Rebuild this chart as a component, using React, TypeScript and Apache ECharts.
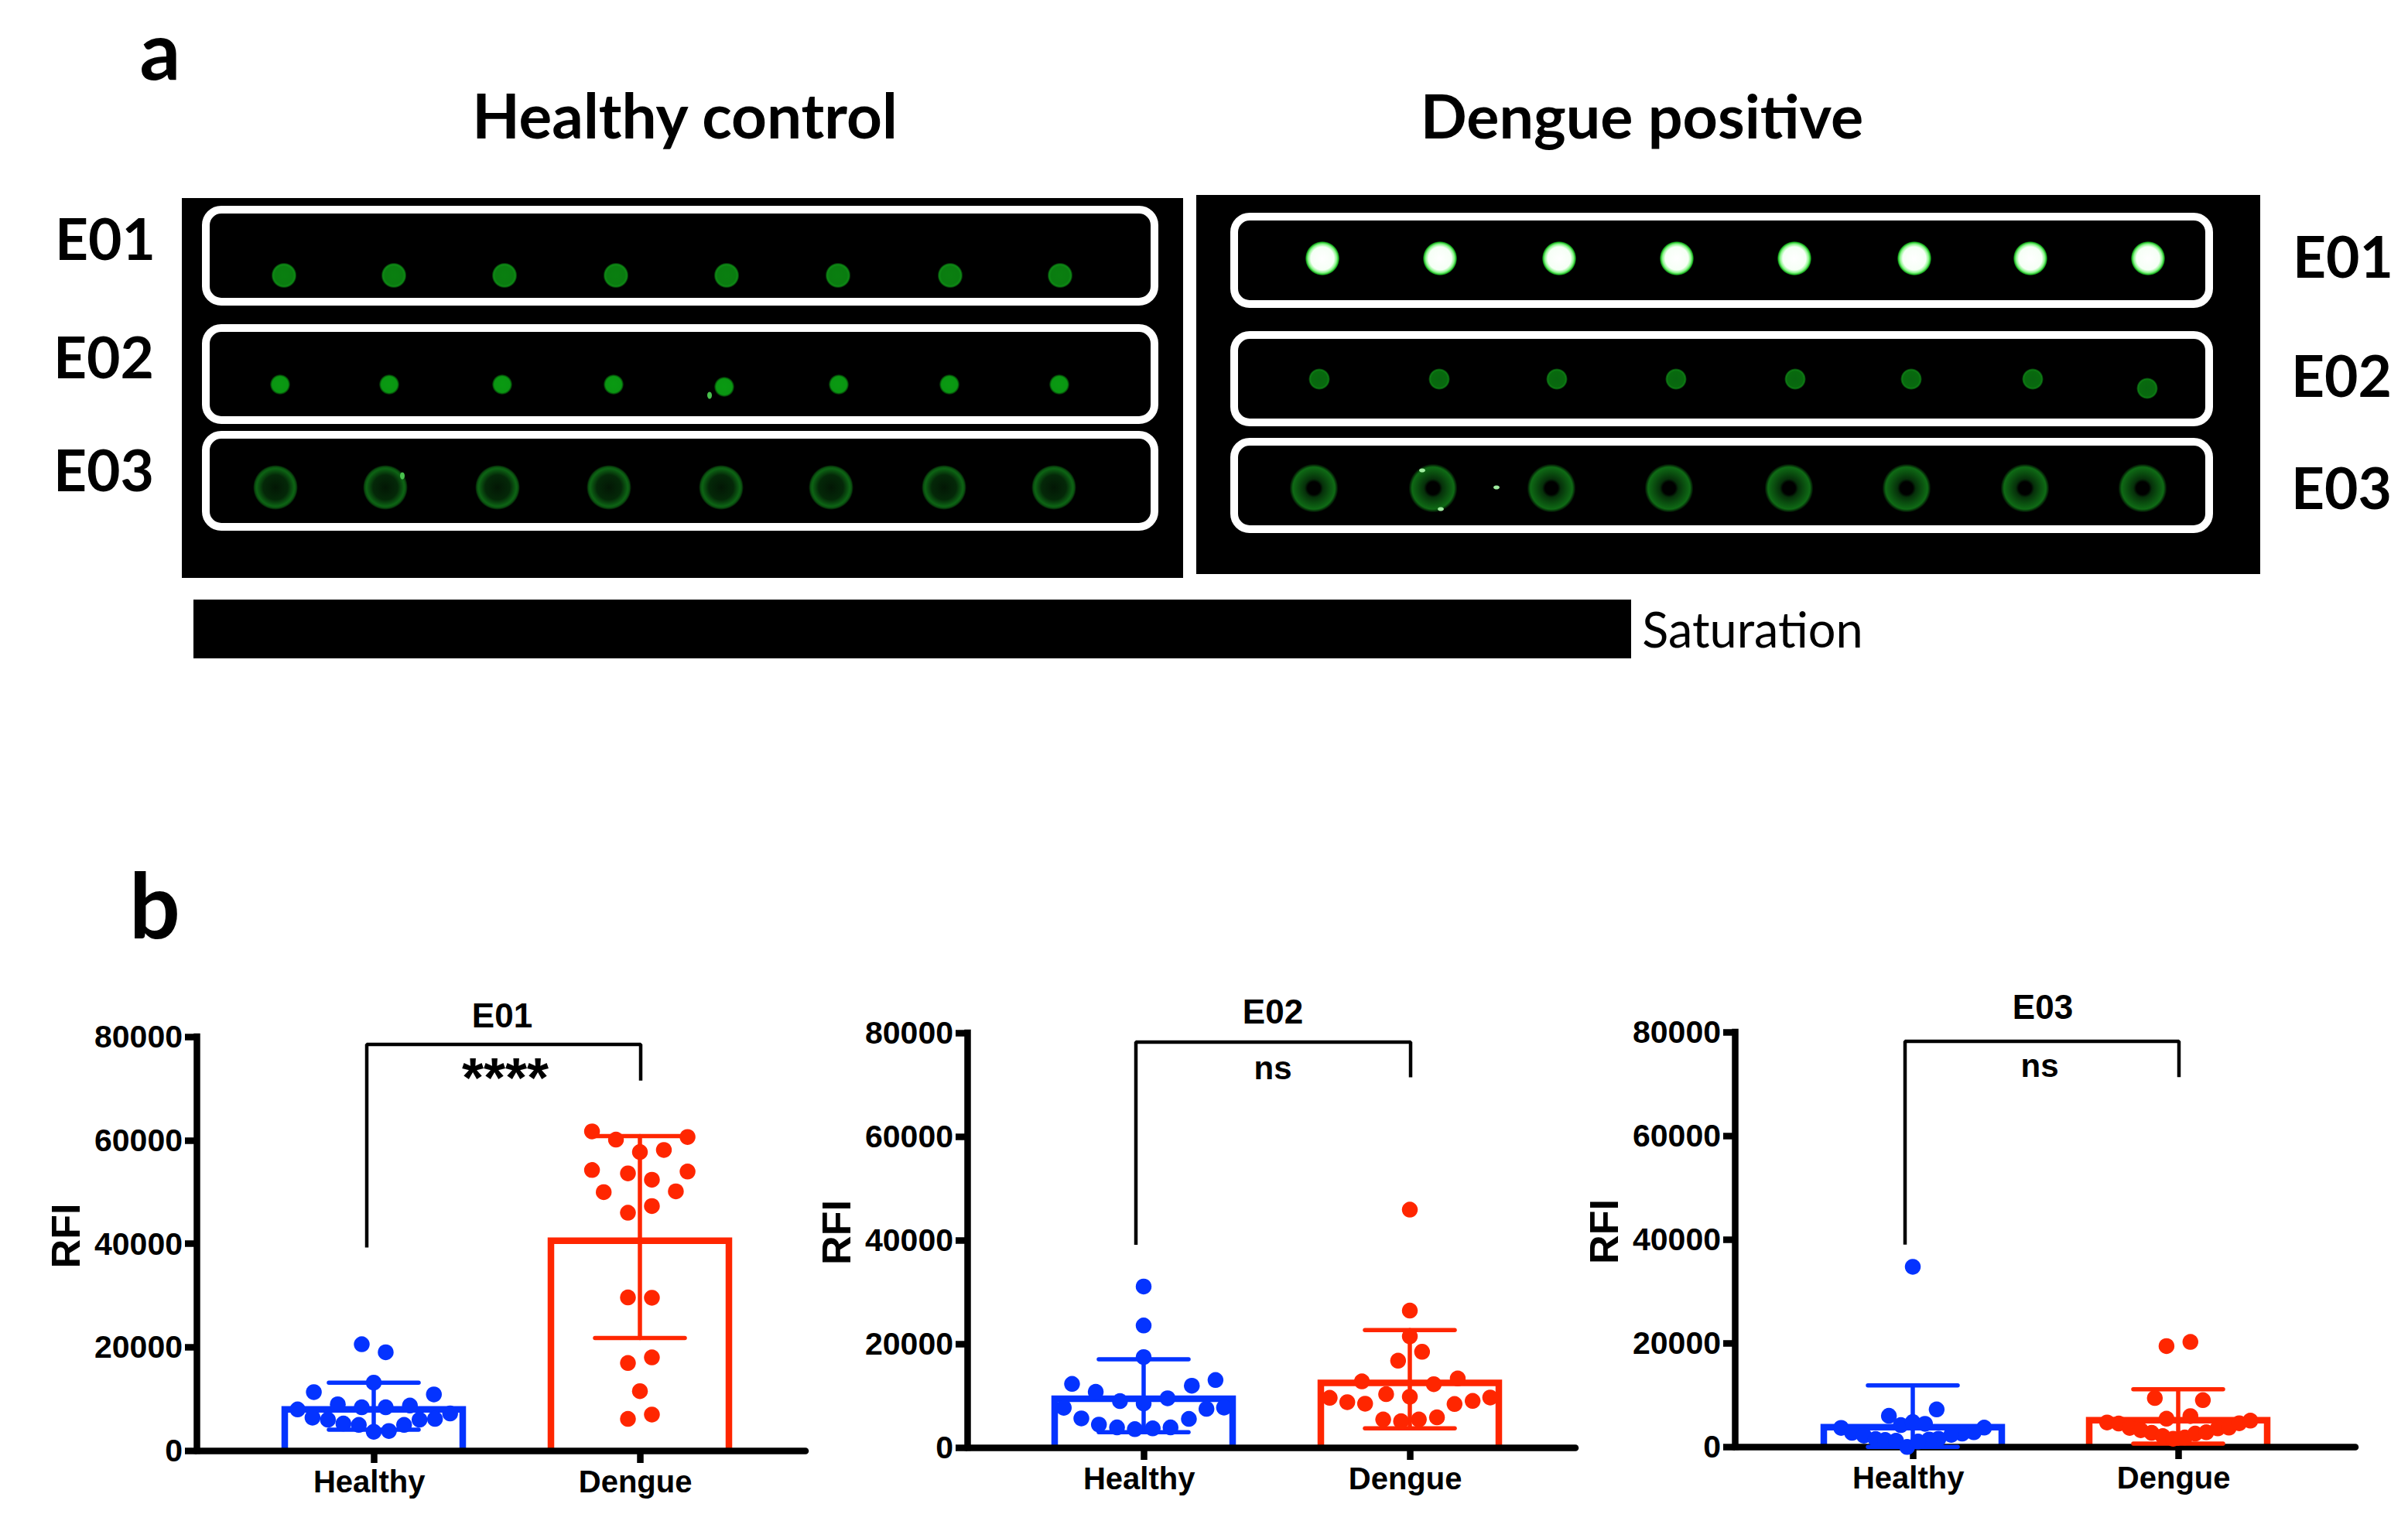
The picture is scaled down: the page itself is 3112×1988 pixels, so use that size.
import React, { useEffect, useRef } from "react";
import * as echarts from "echarts";

// ---------- panel b data ----------
const groupLabels = ["Healthy", "Dengue"];
const yTicks = [0, 20000, 40000, 60000, 80000];

const e01Means = [7960, 40550];
const e01Lows = [4030, 21740];
const e01Highs = [13130, 60800];
const e01HealthyOffsets = [-0.045, 0.045, 0, -0.225, 0.226, -0.135, -0.045, 0.045, 0.136, -0.286, 0.287, -0.23, -0.172, -0.114, -0.056, 0, 0.057, 0.114, 0.172, 0.23];
const e01HealthyValues = [20550, 19000, 13130, 11290, 10850, 8950, 8360, 8360, 8700, 7960, 7160, 6370, 5970, 5220, 4970, 3630, 3780, 4970, 5970, 6120];
const e01DengueOffsets = [-0.18, -0.09, 0.179, 0, 0.09, -0.18, -0.045, 0.045, 0.179, -0.136, 0.135, 0.045, -0.045, -0.045, 0.045, 0.045, -0.045, 0, 0.045, -0.045];
const e01DengueValues = [61690, 60100, 60600, 57710, 58110, 54230, 53580, 52340, 53930, 49950, 50100, 47260, 45970, 29600, 29550, 18010, 16920, 11490, 6970, 6120];

const e02Means = [9390, 12470];
const e02Lows = [2930, 3680];
const e02Highs = [17030, 22650];
const e02HealthyOffsets = [0, 0, 0, -0.269, -0.18, 0.181, 0.27, -0.089, 0, 0.09, -0.3, -0.234, -0.168, -0.1, -0.033, 0.034, 0.101, 0.17, 0.236, 0.302];
const e02HealthyValues = [31060, 23540, 17430, 12270, 10730, 11920, 13010, 8940, 8490, 9490, 7650, 5610, 4420, 3870, 3530, 3680, 3870, 5510, 7450, 7700];
const e02DengueOffsets = [0, 0, 0, 0.046, -0.044, -0.18, 0.09, 0.18, -0.301, -0.235, -0.168, -0.089, 0, 0.168, 0.236, 0.302, -0.1, -0.033, 0.034, 0.102];
const e02DengueValues = [45890, 26400, 21450, 18470, 16740, 12760, 12220, 13310, 9580, 8740, 8440, 10280, 9780, 8390, 8990, 9630, 5410, 5070, 5410, 5810];

const e03Means = [3770, 5120];
const e03Lows = [-50, 600];
const e03Highs = [11820, 11070];
const e03HealthyOffsets = [0, -0.09, 0.09, -0.045, 0, 0.046, -0.27, -0.229, -0.184, -0.14, -0.104, -0.063, -0.021, 0.269, 0.23, 0.186, 0.145, 0.097, 0.062, 0.02];
const e03HealthyValues = [34710, 5960, 7200, 4170, 4770, 4420, 3630, 2680, 2140, 1490, 1290, 1140, -50, 3680, 2780, 2530, 2280, 1540, 1390, 1000];
const e03DengueOffsets = [-0.044, 0.046, -0.088, 0.093, -0.044, 0.046, -0.268, -0.224, -0.183, -0.141, -0.1, -0.058, -0.019, 0.025, 0.064, 0.106, 0.149, 0.191, 0.23, 0.272];
const e03DengueValues = [19420, 20210, 9390, 8990, 5410, 5910, 4670, 4470, 3630, 3180, 2680, 2040, 1540, 1790, 2530, 2780, 3530, 3680, 4520, 5020];

// significance brackets: [left foot, top, right foot]
const e01Bracket = [39250, 78500, 71500];
const e02Bracket = [39100, 78200, 71400];
const e03Bracket = [39000, 78200, 71300];

// ---------- panel a data (slide units) ----------
const healthyE01X = [132, 274, 417, 561, 704, 848, 993, 1135];
const healthyE01Y = [100, 100, 100, 100, 100, 100, 100, 100];
const healthyE02X = [127, 268, 414, 558, 701, 849, 992, 1134];
const healthyE02Y = [241, 241, 241, 241, 244, 241, 241, 241];
const healthyE03X = [121, 263, 408, 552, 697, 839, 985, 1127];
const healthyE03Y = [374, 374, 374, 374, 374, 374, 374, 374];
const healthySpeckX = [682, 285];
const healthySpeckY = [255, 359];
const dengueE01X = [163, 315, 469, 621, 773, 928, 1078, 1230];
const dengueE01Y = [82, 82, 82, 82, 82, 82, 82, 82];
const dengueE02X = [159, 314, 466, 620, 774, 924, 1081, 1229];
const dengueE02Y = [238, 238, 238, 238, 238, 238, 238, 250];
const dengueE03X = [152, 306, 459, 611, 766, 918, 1071, 1223];
const dengueE03Y = [379, 379, 379, 379, 379, 379, 379, 379];
const dengueSpeckX = [388, 292, 316];
const dengueSpeckY = [378, 356, 406];

const BLUE = "#0433ff";
const RED = "#ff2600";
const SANS = "Liberation Sans";
const HEAD = "Lato";

const radial = (stops: [number, string][]) =>
  new echarts.graphic.RadialGradient(0.5, 0.5, 0.5, stops.map(([offset, color]) => ({ offset, color })));

const zip = (xs: number[], ys: number[]) => xs.map((x, i) => [x, ys[i]]);

type Panel = {
  axisX: number; top: number; zero: number; right: number; tick1: number; tick2: number;
  means: number[]; lows: number[]; highs: number[];
  hOff: number[]; hVal: number[]; dOff: number[]; dVal: number[];
  bracket: number[]; brL: number; brR: number;
};

const panels: Panel[] = [
  { axisX: 254, top: 1340, zero: 1875, right: 1041, tick1: 483, tick2: 827, means: e01Means, lows: e01Lows, highs: e01Highs, hOff: e01HealthyOffsets, hVal: e01HealthyValues, dOff: e01DengueOffsets, dVal: e01DengueValues, bracket: e01Bracket, brL: 474, brR: 828 },
  { axisX: 1250, top: 1335, zero: 1871, right: 2036, tick1: 1478, tick2: 1822, means: e02Means, lows: e02Lows, highs: e02Highs, hOff: e02HealthyOffsets, hVal: e02HealthyValues, dOff: e02DengueOffsets, dVal: e02DengueValues, bracket: e02Bracket, brL: 1468, brR: 1823 },
  { axisX: 2242, top: 1334, zero: 1870, right: 3044, tick1: 2472, tick2: 2815, means: e03Means, lows: e03Lows, highs: e03Highs, hOff: e03HealthyOffsets, hVal: e03HealthyValues, dOff: e03DengueOffsets, dVal: e03DengueValues, bracket: e03Bracket, brL: 2462, brR: 2816 },
];

function buildOption() {
  const grids: any[] = [];
  const xAxes: any[] = [];
  const yAxes: any[] = [];
  const series: any[] = [];

  panels.forEach((p, i) => {
    const unit = p.tick2 - p.tick1;
    const xMin = 1 - (p.tick1 - p.axisX) / unit;
    const xMax = 2 + (p.right - p.tick2) / unit;
    grids.push({ left: p.axisX, top: p.top, width: p.right - p.axisX, height: p.zero - p.top, containLabel: false });
    xAxes.push({
      type: "value", gridIndex: i, min: xMin, max: xMax, z: 2, splitLine: { show: false },
      axisLine: { show: true, lineStyle: { color: "#000", width: 8.5 } },
      axisTick: { show: true, length: 16, customValues: [1, 2], lineStyle: { color: "#000", width: 8.5 } },
      axisLabel: {
        show: true, customValues: [0.983, 1.983], margin: 20, hideOverlap: false,
        formatter: (v: number) => groupLabels[v < 1.5 ? 0 : 1],
        fontFamily: SANS, fontWeight: "bold", fontSize: 40, color: "#000",
      },
    });
    yAxes.push({
      type: "value", gridIndex: i, min: yTicks[0], max: yTicks[yTicks.length - 1], interval: yTicks[1] - yTicks[0], z: 2,
      splitLine: { show: false },
      axisLine: { show: true, onZero: false, lineStyle: { color: "#000", width: 8.5, cap: "square" } },
      axisTick: { show: true, length: 15, lineStyle: { color: "#000", width: 8.5 } },
      axisLabel: { show: true, margin: 18, formatter: (v: number) => String(v), fontFamily: SANS, fontWeight: "bold", fontSize: 41, color: "#000" },
      name: "RFI", nameLocation: "middle", nameGap: 143, nameRotate: 90,
      nameTextStyle: { fontFamily: SANS, fontWeight: "bold", fontSize: 52, color: "#000", padding: [0, 0, 0, 20] },
    });
    series.push({
      type: "custom", xAxisIndex: i, yAxisIndex: i, z: 1, clip: false,
      encode: { x: 0, y: 1 },
      data: [
        { value: [1, p.means[0]], itemStyle: { color: BLUE } },
        { value: [2, p.means[1]], itemStyle: { color: RED } },
      ],
      renderItem: (_: any, api: any) => {
        const top = api.coord([api.value(0), api.value(1)]);
        const base = api.coord([api.value(0), 0]);
        const half = 115;
        return {
          type: "polyline",
          shape: { points: [[top[0] - half, base[1]], [top[0] - half, top[1]], [top[0] + half, top[1]], [top[0] + half, base[1]]] },
          style: { stroke: api.visual("color"), lineWidth: 8.5, fill: "none", lineJoin: "miter" },
        };
      },
    });
    series.push({
      type: "custom", xAxisIndex: i, yAxisIndex: i, z: 3, clip: false,
      encode: { x: 0, y: [1, 2] },
      data: [
        { value: [1, p.lows[0], p.highs[0]], itemStyle: { color: BLUE } },
        { value: [2, p.lows[1], p.highs[1]], itemStyle: { color: RED } },
      ],
      renderItem: (_: any, api: any) => {
        const lo = api.coord([api.value(0), api.value(1)]);
        const hi = api.coord([api.value(0), api.value(2)]);
        const style = { stroke: api.visual("color"), lineWidth: 5.5, lineCap: "round", fill: "none" };
        const seg = (x1: number, y1: number, x2: number, y2: number) => ({ type: "line", shape: { x1, y1, x2, y2 }, style });
        return {
          type: "group",
          children: [
            seg(lo[0], lo[1], hi[0], hi[1]),
            seg(lo[0] - 58, lo[1], lo[0] + 58, lo[1]),
            seg(hi[0] - 58, hi[1], hi[0] + 58, hi[1]),
          ],
        };
      },
    });
    series.push({
      type: "line", xAxisIndex: i, yAxisIndex: i, z: 3, clip: false, symbol: "none",
      lineStyle: { color: "#000", width: 4.5 },
      data: [
        [1 + (p.brL - p.tick1) / unit, p.bracket[0]],
        [1 + (p.brL - p.tick1) / unit, p.bracket[1]],
        [1 + (p.brR - p.tick1) / unit, p.bracket[1]],
        [1 + (p.brR - p.tick1) / unit, p.bracket[2]],
      ],
    });
    series.push({
      type: "scatter", xAxisIndex: i, yAxisIndex: i, z: 4, clip: false, symbolSize: 20.5,
      itemStyle: { color: BLUE, opacity: 1 },
      data: p.hOff.map((o, k) => [1 + o, p.hVal[k]]),
    });
    series.push({
      type: "scatter", xAxisIndex: i, yAxisIndex: i, z: 4, clip: false, symbolSize: 20.5,
      itemStyle: { color: RED, opacity: 1 },
      data: p.dOff.map((o, k) => [2 + o, p.dVal[k]]),
    });
  });

  // panel a: two slide images, each on its own hidden slide-unit axes
  const slides = [
    { left: 235, top: 256, width: 1294, height: 491 },
    { left: 1546, top: 252, width: 1375, height: 490 },
  ];
  slides.forEach((s, k) => {
    const i = panels.length + k;
    grids.push({ ...s });
    xAxes.push({ type: "value", gridIndex: i, min: 0, max: s.width, show: false });
    yAxes.push({ type: "value", gridIndex: i, min: 0, max: s.height, inverse: true, show: false });
  });
  const spot = (grid: number, xs: number[], ys: number[], size: number | number[], color: any) => ({
    type: "scatter", xAxisIndex: grid, yAxisIndex: grid, z: 3, clip: false, symbolSize: size,
    itemStyle: { color, opacity: 1 }, data: zip(xs, ys),
  });
  const h = panels.length;
  const d = panels.length + 1;
  const solidHealthy = radial([[0, "#0a7f10"], [0.7, "#0a7c10"], [0.86, "#0e8a15"], [1, "#000000"]]);
  const solidHealthyE02 = radial([[0, "#0a9a12"], [0.8, "#0a9612"], [1, "#021c03"]]);
  const ringHealthy = radial([[0, "#031705"], [0.55, "#042808"], [0.84, "#0d6414"], [0.92, "#0a4c0f"], [1, "#000000"]]);
  const brightDengue = radial([[0, "#ffffff"], [0.68, "#f6fff6"], [0.84, "#8cf58c"], [0.94, "#23bf28"], [1, "#04300a"]]);
  const solidDengue = radial([[0, "#086510"], [0.72, "#086a0e"], [0.86, "#0e7d15"], [1, "#000000"]]);
  const ringDengue = radial([[0, "#000000"], [0.26, "#000000"], [0.38, "#06300a"], [0.62, "#0a4e0f"], [0.86, "#0f6a15"], [1, "#000000"]]);
  series.push(
    spot(h, healthyE01X, healthyE01Y, 33, solidHealthy),
    spot(h, healthyE02X, healthyE02Y, 26, solidHealthyE02),
    spot(h, healthyE03X, healthyE03Y, 58, ringHealthy),
    spot(h, healthySpeckX, healthySpeckY, [6, 9], "#49c04d"),
    spot(d, dengueE01X, dengueE01Y, 44, brightDengue),
    spot(d, dengueE02X, dengueE02Y, 28, solidDengue),
    spot(d, dengueE03X, dengueE03Y, 63, ringDengue),
    spot(d, dengueSpeckX, dengueSpeckY, [8, 5], "#a0eca0"),
  );

  const rect = (x: number, y: number, width: number, height: number) => ({
    type: "rect", x, y, z: 0, shape: { x: 0, y: 0, width, height }, style: { fill: "#000" },
  });
  const box = (x: number, y: number, width: number, height: number) => ({
    type: "rect", x, y, z: 1, shape: { x: 0, y: 0, width, height, r: 20 }, style: { fill: "none", stroke: "#fff", lineWidth: 10 },
  });
  const text = (t: string, x: number, y: number, fontSize: number, fontFamily: string, fontWeight = "bold") => ({
    type: "text", x, y, z: 5,
    style: { text: t, fontSize, fontFamily, fontWeight, fill: "#000", textAlign: "center", textVerticalAlign: "middle" },
  });

  const graphic = [
    rect(235, 256, 1294, 491),
    rect(1546, 252, 1375, 490),
    rect(250, 775, 1858, 76),
    box(266, 271, 1226, 119), box(266, 424, 1226, 119), box(266, 562, 1226, 119),
    box(1595, 280, 1260, 113), box(1595, 433, 1260, 113), box(1595, 571, 1260, 113),
    text("a", 207, 62, 104, HEAD),
    text("b", 200, 1168, 116, HEAD),
    text("Healthy control", 885, 148, 80, HEAD),
    text("Dengue positive", 2122, 148, 79, HEAD),
    text("E01", 136, 307, 75, HEAD), text("E02", 134, 460, 75, HEAD), text("E03", 134, 606, 75, HEAD),
    text("E01", 3028, 330, 75, HEAD), text("E02", 3026, 484, 75, HEAD), text("E03", 3026, 629, 75, HEAD),
    text("Saturation", 2265, 812, 63, HEAD, "normal"),
    text("E01", 649, 1312, 44, SANS), text("E02", 1645, 1307, 44, SANS), text("E03", 2640, 1301, 44, SANS),
    text("****", 653, 1393, 72, SANS),
    text("ns", 1645, 1380, 42, SANS), text("ns", 2636, 1377, 42, SANS),
  ];

  return {
    animation: false,
    backgroundColor: "#fff",
    grid: grids,
    xAxis: xAxes,
    yAxis: yAxes,
    series,
    graphic,
  };
}

export default function App() {
  const ref = useRef<HTMLDivElement>(null);
  useEffect(() => {
    const chart = echarts.init(ref.current!, null, { renderer: "svg" });
    chart.setOption(buildOption() as any);
    return () => chart.dispose();
  }, []);
  return <div ref={ref} style={{ position: "fixed", left: 0, top: 0, width: 3112, height: 1988 }} />;
}
